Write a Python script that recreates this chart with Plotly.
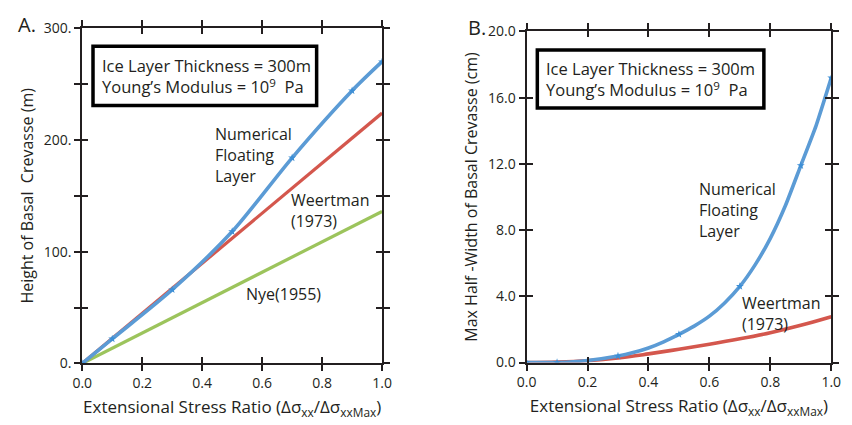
import plotly.graph_objects as go

# ---------------- data ----------------
xa_num = [0.0, 0.1, 0.3, 0.5, 0.7, 0.9, 1.0]
ya_num = [0.0, 22, 66, 118, 184, 244, 270]
xa_lin = [0.0, 1.0]
ya_weert = [0.0, 224]
ya_nye = [0.0, 136]

xb_num = [0.0, 0.1, 0.2, 0.3, 0.35, 0.4, 0.45, 0.5, 0.55, 0.6, 0.65, 0.7, 0.75, 0.8, 0.85, 0.9, 0.95, 1.0]
yb_num = [0.0, 0.0, 0.12, 0.39, 0.6, 0.88, 1.25, 1.7, 2.2, 2.8, 3.6, 4.6, 5.9, 7.5, 9.5, 11.9, 14.3, 17.2]
xb_mark = [0.0, 0.1, 0.3, 0.5, 0.7, 0.9, 1.0]
yb_mark = [0.0, 0.0, 0.39, 1.7, 4.6, 11.9, 17.2]
xb_weert = [0.0, 0.1, 0.2, 0.3, 0.4, 0.5, 0.6, 0.7, 0.8, 0.9, 1.0]
yb_weert = [0.0, 0.03, 0.11, 0.27, 0.52, 0.8, 1.1, 1.43, 1.8, 2.25, 2.77]

x_ticks = [0.0, 0.2, 0.4, 0.6, 0.8, 1.0]
x_ticktext = ["0.0", "0.2", "0.4", "0.6", "0.8", "1.0"]
ya_ticks = [0, 50, 100, 150, 200, 250, 300]
ya_ticktext = ["0.", " ", "100.", " ", "200.", " ", "300."]
yb_ticks = [0, 4, 8, 12, 16, 20]
yb_ticktext = ["0.0", "4.0", "8.0", "12.0", "16.0", "20.0"]

BLUE = "#5b9bd5"
RED = "#d4574d"
GREEN = "#9cc45c"
STAR = "#3d8fd6"
INK = "#231f20"
FONT = "Open Sans"

W, H = 852, 425
def px(x): return x / W
def py(y): return 1 - y / H

domA_x = [px(74), px(381)]
domA_y = [py(370), py(19)]
domB_x = [px(529), px(841)]
domB_y = [py(369), py(22.5)]

fig = go.Figure()

# panel A
fig.add_trace(go.Scatter(x=xa_lin, y=ya_nye, mode="lines", line=dict(color=GREEN, width=3.2),
                         xaxis="x", yaxis="y", showlegend=False))
fig.add_trace(go.Scatter(x=xa_lin, y=ya_weert, mode="lines", line=dict(color=RED, width=3.2),
                         xaxis="x", yaxis="y", showlegend=False))
fig.add_trace(go.Scatter(x=xa_num, y=ya_num, mode="lines", line=dict(color=BLUE, width=3.6, shape="spline", smoothing=0.8),
                         xaxis="x", yaxis="y", showlegend=False))
fig.add_trace(go.Scatter(x=xa_num, y=ya_num, mode="markers", marker=dict(symbol="star", size=6, color=STAR),
                         xaxis="x", yaxis="y", showlegend=False))

# panel B
fig.add_trace(go.Scatter(x=xb_weert, y=yb_weert, mode="lines", line=dict(color=RED, width=3.6, shape="spline"),
                         xaxis="x2", yaxis="y2", showlegend=False))
fig.add_trace(go.Scatter(x=xb_num, y=yb_num, mode="lines", line=dict(color=BLUE, width=3.6, shape="spline", smoothing=0.5),
                         xaxis="x2", yaxis="y2", showlegend=False))
fig.add_trace(go.Scatter(x=xb_mark, y=yb_mark, mode="markers", marker=dict(symbol="star", size=6, color=STAR),
                         xaxis="x2", yaxis="y2", showlegend=False))

# invisible traces for inside-tick overlay axes
fig.add_trace(go.Scatter(x=[0], y=[0], mode="markers", marker=dict(opacity=0), xaxis="x3", yaxis="y3",
                         showlegend=False, hoverinfo="skip"))
fig.add_trace(go.Scatter(x=[0], y=[0], mode="markers", marker=dict(opacity=0), xaxis="x4", yaxis="y4",
                         showlegend=False, hoverinfo="skip"))

tickfont = dict(family=FONT, size=14, color=INK)
titlefont = dict(family=FONT, size=17, color=INK)
ytitlefont = dict(family=FONT, size=16, color=INK)
common = dict(showline=True, linecolor=INK, linewidth=2, mirror="allticks", ticks="outside",
              ticklen=6, tickwidth=2, tickcolor=INK, showgrid=False, zeroline=False,
              tickfont=tickfont, tickmode="array")
inside = dict(showline=False, mirror="allticks", ticks="inside", ticklen=6, tickwidth=2, tickcolor=INK,
              showgrid=False, zeroline=False, showticklabels=False, tickmode="array")

xtitle = "Extensional Stress Ratio (Δσ<sub>xx</sub>/Δσ<sub>xxMax</sub>)"

fig.update_layout(
    width=W, height=H, margin=dict(l=0, r=0, t=0, b=0),
    paper_bgcolor="white", plot_bgcolor="white",
    xaxis=dict(domain=domA_x, anchor="y", range=[0, 1], tickvals=x_ticks, ticktext=x_ticktext,
               title=dict(text=xtitle, font=titlefont, standoff=10), **common),
    yaxis=dict(domain=domA_y, anchor="x", range=[0, 300], tickvals=ya_ticks, ticktext=ya_ticktext,
               title=dict(text="Height of Basal  Crevasse (m)", font=ytitlefont, standoff=6), **common),
    xaxis2=dict(domain=domB_x, anchor="y2", range=[0, 1], tickvals=x_ticks, ticktext=x_ticktext,
                title=dict(text=xtitle, font=titlefont, standoff=10), **common),
    yaxis2=dict(domain=domB_y, anchor="x2", range=[0, 20], tickvals=yb_ticks, ticktext=yb_ticktext,
                title=dict(text="Max Half -Width of Basal Crevasse (cm)", font=ytitlefont, standoff=6), **common),
    xaxis3=dict(domain=domA_x, anchor="y3", overlaying="x", range=[0, 1], tickvals=x_ticks, **inside),
    yaxis3=dict(domain=domA_y, anchor="x3", overlaying="y", range=[0, 300], tickvals=ya_ticks, **inside),
    xaxis4=dict(domain=domB_x, anchor="y4", overlaying="x2", range=[0, 1], tickvals=x_ticks, **inside),
    yaxis4=dict(domain=domB_y, anchor="x4", overlaying="y2", range=[0, 20], tickvals=yb_ticks, **inside),
)

# info boxes
fig.add_shape(type="rect", xref="paper", yref="paper", x0=px(85), x1=px(314), y0=py(100), y1=py(38),
              line=dict(color="black", width=3.5), fillcolor="white")
fig.add_shape(type="rect", xref="paper", yref="paper", x0=px(540), x1=px(772), y0=py(102.5), y1=py(42),
              line=dict(color="black", width=3.5), fillcolor="white")

box_text = "Ice Layer Thickness = 300m<br>Young’s Modulus = 10<sup>9</sup>  Pa"
lab = dict(family=FONT, size=16, color=INK)
boxfont = dict(family=FONT, size=16.5, color=INK)
ann = [
    dict(x=px(208), y=py(152), text="Numerical<br>Floating<br>Layer"),
    dict(x=px(286), y=py(210), text="Weertman<br>(1973)"),
    dict(x=px(240), y=py(297), text="Nye(1955)"),
    dict(x=px(704), y=py(209), text="Numerical<br>Floating<br>Layer"),
    dict(x=px(748), y=py(318), text="Weertman<br>(1973)"),
]
for a in ann:
    fig.add_annotation(xref="paper", yref="paper", showarrow=False, font=lab,
                       xanchor="left", yanchor="middle", align="left", **a)
for bx, by in [(92, 69), (547, 72)]:
    fig.add_annotation(xref="paper", yref="paper", x=px(bx), y=py(by), text=box_text, showarrow=False,
                       font=boxfont, xanchor="left", yanchor="middle", align="left")

fig.add_annotation(xref="paper", yref="paper", x=px(6), y=py(15), text="A.", showarrow=False,
                   xanchor="left", yanchor="middle", font=dict(family=FONT, size=20, color=INK))
fig.add_annotation(xref="paper", yref="paper", x=px(467), y=py(18), text="B.", showarrow=False,
                   xanchor="left", yanchor="middle", font=dict(family=FONT, size=20, color=INK))

fig.write_html("out.html")
